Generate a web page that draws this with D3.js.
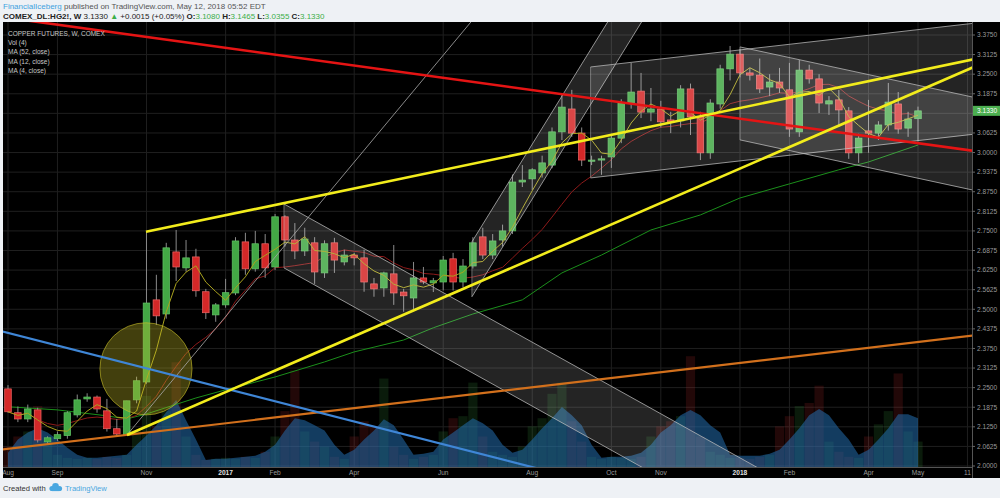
<!DOCTYPE html>
<html><head><meta charset="utf-8">
<script src="https://cdn.jsdelivr.net/npm/d3@7"></script>
<style>
html,body{margin:0;padding:0;background:#eef1f5;}
svg{display:block;font-family:"Liberation Sans",Arial,sans-serif;}
</style></head><body>
<svg id="c" width="1000" height="498"></svg>
<script>
// ---------- DATA (weekly, week 0 = first week of Aug 2016) ----------
const opens=[2.246,2.170,2.150,2.179,2.077,2.087,2.097,2.163,2.214,2.220,
2.176,2.119,2.099,2.211,2.268,2.530,2.485,2.683,2.632,2.667,
2.556,2.482,2.514,2.552,2.715,2.629,2.709,2.635,2.795,2.721,
2.686,2.712,2.616,2.712,2.651,2.673,2.664,2.581,2.568,2.613,
2.555,2.536,2.600,2.584,2.587,2.661,2.587,2.638,2.731,2.673,
2.721,2.750,2.906,2.916,2.935,2.960,3.066,3.139,3.062,2.973,
2.976,2.986,3.046,3.158,3.196,3.129,3.139,3.104,3.101,3.203,
3.114,2.999,3.155,3.267,3.314,3.254,3.247,3.209,3.225,3.200,
3.066,3.263,3.235,3.155,3.168,3.133,2.999,3.069,3.062,3.088,
3.155,3.078,3.108];
const highs=[2.258,2.190,2.196,2.186,2.095,2.110,2.175,2.228,2.232,2.225,
2.214,2.150,2.208,2.285,2.747,2.610,2.712,2.753,2.721,2.693,
2.565,2.520,2.597,2.730,2.744,2.750,2.740,2.804,2.800,2.775,
2.760,2.730,2.720,2.728,2.690,2.680,2.690,2.600,2.620,2.705,
2.565,2.651,2.635,2.600,2.670,2.680,2.660,2.730,2.760,2.740,
2.770,2.930,2.960,2.950,2.990,3.080,3.190,3.200,3.080,2.990,
2.990,3.060,3.170,3.286,3.254,3.206,3.165,3.130,3.215,3.220,
3.130,3.170,3.280,3.340,3.330,3.270,3.300,3.250,3.270,3.286,
3.295,3.280,3.250,3.180,3.200,3.145,3.060,3.168,3.100,3.222,
3.193,3.130,3.1465];
const lows=[2.170,2.140,2.140,2.075,2.070,2.080,2.087,2.155,2.205,2.170,
2.110,2.095,2.099,2.200,2.262,2.450,2.470,2.590,2.620,2.540,
2.469,2.460,2.505,2.545,2.610,2.620,2.600,2.625,2.700,2.660,
2.670,2.581,2.600,2.616,2.640,2.640,2.556,2.540,2.540,2.514,
2.492,2.501,2.580,2.555,2.560,2.560,2.570,2.630,2.660,2.660,
2.700,2.740,2.890,2.880,2.920,2.950,3.040,3.050,2.957,2.960,
2.929,2.951,3.030,3.140,3.110,3.100,3.080,3.062,3.080,3.056,
2.976,2.980,3.140,3.230,3.240,3.230,3.190,3.180,3.190,3.050,
3.050,3.220,3.126,3.120,3.082,2.980,2.967,2.999,3.040,3.070,
3.060,3.050,3.0355];
const closes=[2.173,2.150,2.182,2.083,2.090,2.100,2.170,2.211,2.220,2.182,
2.119,2.102,2.208,2.272,2.520,2.479,2.696,2.635,2.664,2.559,
2.489,2.514,2.553,2.718,2.629,2.709,2.632,2.795,2.721,2.686,
2.724,2.619,2.709,2.657,2.673,2.664,2.587,2.565,2.616,2.552,
2.543,2.600,2.587,2.591,2.657,2.587,2.638,2.712,2.673,2.718,
2.750,2.906,2.912,2.945,2.967,3.066,3.145,3.062,2.976,2.976,
2.980,3.046,3.158,3.193,3.129,3.139,3.098,3.098,3.203,3.114,
2.999,3.158,3.267,3.314,3.254,3.247,3.203,3.225,3.206,3.075,
3.263,3.235,3.158,3.165,3.136,2.999,3.046,3.062,3.088,3.161,
3.075,3.107,3.133];
const volumes=[20,30,35,60,25,12,9,8,9,8,
10,9,12,35,70,40,55,103,30,12,
7,8,9,8,10,9,15,30,55,95,
35,25,20,10,8,30,45,40,87,20,
12,8,10,12,35,48,50,83,30,15,
12,10,20,40,48,72,83,45,25,10,
8,10,9,8,10,30,40,45,50,109,
30,15,12,9,9,8,10,12,40,50,
60,63,80,25,15,10,9,30,42,55,
92,35,25];
const volMA4=[14,27,34,38,34,27,19,12,9,9,
10,11,12,22,31,41,54,66,46,27,
7,8,8,9,10,11,15,22,36,48,
46,41,36,22,12,17,27,36,47,41,
27,12,13,15,27,34,41,48,43,36,
22,14,17,27,38,48,59,51,41,22,
9,10,10,11,14,22,34,41,51,56,
51,41,34,12,11,11,11,13,17,27,
38,51,57,51,38,27,12,17,27,38,
52,52,48];
const ma52Weeks=[0,5,10,12,14,19,22,27,32,35,40,43,47,52,56,60,65,70,74,79,84,87,92];
const ma52Values=[2.189,2.179,2.160,2.150,2.166,2.217,2.243,2.284,2.332,2.364,2.402,2.441,2.485,2.530,2.616,2.673,2.753,2.801,2.855,2.900,2.945,2.970,3.024];
const priceTicks=[2.0,2.0625,2.125,2.1875,2.25,2.3125,2.375,2.4375,2.5,2.5625,2.625,2.6875,2.75,2.8125,2.875,2.9375,3.0,3.0625,3.125,3.1875,3.25,3.3125,3.375];
const timeTickWeeks=[0,5,14,22,27,35,44,53,61,66,74,79,87,92,97];
const timeTickLabels=["Aug","Sep","Nov","2017","Feb","Apr","Jun","Aug","Oct","Nov","2018","Feb","Apr","May","11"];
// drawing anchors in (week, price)
const trendAnchors={
  red:[[45.7,3.231],[96.3,3.011]],
  yellowTop:[[13.95,2.747],[74.0,3.142]],
  yellowLow:[[12.03,2.099],[96.26,3.254]],
  blue:[[2.73,2.4024],[52.48,2.0007]],
  orange:[[-0.81,2.0517],[97.47,2.4158]],
  grey:[[12.03,2.099],[46.8,3.4165]]
};
const channelAnchors={
  A:{start:[27.9,2.836],slope:-0.01757,offset:-0.204},
  B:{start:[46.9,2.715],slope:0.0511,offset:-0.175},
  C:{start:[58.9,3.273],slope:0.0036,offset:-0.354},
  D:{start:[74.0,3.337],slope:-0.0068,offset:-0.2966}
};
const circleAnchor={center:[13.95,2.310],edge:[13.95,2.457]};

// ---------- CHART ----------
const svg=d3.select("#c");
const L=3,R=972,T=22,B=467;
const x=d3.scaleLinear().domain([0,92]).range([8,918]);
const y=d3.scaleLinear().domain([2.0,3.375]).range([466,35]);
const yv=d3.scaleLinear().domain([0,120]).range([467,345]);

svg.append("rect").attr("x",0).attr("y",0).attr("width",1000).attr("height",498).attr("fill","#eef1f5");
svg.append("rect").attr("x",L).attr("y",T).attr("width",1000-L).attr("height",478-T).attr("fill","#000");

// header
const h1=svg.append("text").attr("x",3).attr("y",9).attr("font-size",8);
h1.append("tspan").attr("fill","#3ea1e0").text("FinancialIceberg");
h1.append("tspan").attr("fill","#555").text(" published on TradingView.com, May 12, 2018 05:52 EDT");
const h2=svg.append("text").attr("x",3).attr("y",18.5).attr("font-size",8).attr("fill","#222");
h2.append("tspan").attr("font-weight","bold").text("COMEX_DL:HG2!, W");
h2.append("tspan").text("  3.1330 ");
h2.append("tspan").attr("fill","#3cae48").text("▲");
h2.append("tspan").text(" +0.0015 (+0.05%) ");
[["O:","3.1080"],["H:","3.1465"],["L:","3.0355"],["C:","3.1330"]].forEach(([k,v],i)=>{
  h2.append("tspan").attr("font-weight","bold").text((i?" ":"")+k);
  h2.append("tspan").attr("fill","#3cae48").text(v);
});

svg.append("defs").append("clipPath").attr("id","plot").append("rect")
  .attr("x",L).attr("y",T).attr("width",R-L).attr("height",B-T);
svg.append("defs").append("clipPath").attr("id","taxis").append("rect")
  .attr("x",L).attr("y",B).attr("width",R-L).attr("height",11);

const g=svg.append("g").attr("clip-path","url(#plot)");
// grid
g.selectAll(".hg").data(priceTicks).join("line").attr("x1",L).attr("x2",R)
  .attr("y1",d=>y(d)).attr("y2",d=>y(d)).attr("stroke","#1f1f1f");
g.selectAll(".vg").data(timeTickWeeks).join("line").attr("y1",T).attr("y2",B)
  .attr("x1",d=>x(d)).attr("x2",d=>x(d)).attr("stroke","#1f1f1f");

// volume bars
const idx=d3.range(closes.length);
g.selectAll(".vb").data(idx).join("rect")
  .attr("x",i=>x(i)-4.6).attr("width",9.2)
  .attr("y",i=>yv(volumes[i])).attr("height",i=>yv(0)-yv(volumes[i]))
  .attr("fill",i=>closes[i]>=opens[i]?"rgba(60,170,70,0.16)":"rgba(210,50,50,0.16)");
// volume MA area
g.append("path").datum(idx).attr("fill","rgba(35,110,175,0.55)")
  .attr("d",d3.area().x(i=>x(i)).y0(yv(0)).y1(i=>yv(volMA4[i])));

// moving averages
function sma(a,n){return a.map((_,i)=>d3.mean(a.slice(Math.max(0,i-n+1),i+1)));}
const ma4=sma(closes,4), ma12=sma(closes,12);
const ln=d3.line().x(d=>x(d[0])).y(d=>y(d[1]));
g.append("path").attr("d",ln(ma52Weeks.map((w,i)=>[w,ma52Values[i]]))).attr("fill","none").attr("stroke","#1b8f1b").attr("stroke-width",1);
g.append("path").attr("d",ln(idx.map(i=>[i,ma12[i]]))).attr("fill","none").attr("stroke","#8e1a1a").attr("stroke-width",1);

// candles
const cg=g.append("g");
cg.selectAll(".w").data(idx).join("line").attr("x1",i=>x(i)).attr("x2",i=>x(i))
  .attr("y1",i=>y(highs[i])).attr("y2",i=>y(lows[i])).attr("stroke","#8a8a8a").attr("stroke-width",1);
cg.selectAll(".b").data(idx).join("rect")
  .attr("x",i=>x(i)-3.3).attr("width",6.6)
  .attr("y",i=>y(Math.max(opens[i],closes[i])))
  .attr("height",i=>Math.max(1.2,Math.abs(y(opens[i])-y(closes[i]))))
  .attr("fill",i=>closes[i]>=opens[i]?"#43a845":"#d42828")
  .attr("stroke",i=>closes[i]>=opens[i]?"#62c466":"#f06464").attr("stroke-width",0.7);
g.append("path").attr("d",ln(idx.map(i=>[i,ma4[i]]))).attr("fill","none").attr("stroke","#a9a21e").attr("stroke-width",1);

// channels
function chanPts(c,endW){
  const [w0,p0]=c.start;
  return [[w0,p0],[endW,p0+c.slope*(endW-w0)],[endW,p0+c.slope*(endW-w0)+c.offset],[w0,p0+c.offset]];
}
const poly=pts=>"M"+pts.map(p=>x(p[0])+","+y(p[1])).join("L")+"Z";
Object.entries(channelAnchors).forEach(([k,c])=>{
  const pts=chanPts(c,130);
  g.append("path").attr("d",poly(pts)).attr("fill","rgba(255,255,255,0.14)").attr("stroke","none");
  g.append("path").attr("d",ln([pts[0],pts[1]])).attr("stroke","rgba(190,190,190,0.75)").attr("fill","none");
  g.append("path").attr("d",ln([pts[3],pts[2]])).attr("stroke","rgba(190,190,190,0.75)").attr("fill","none");
  g.append("path").attr("d",ln([pts[0],pts[3]])).attr("stroke","rgba(190,190,190,0.5)").attr("fill","none");
});

// circle
g.append("circle").attr("cx",x(circleAnchor.center[0])).attr("cy",y(circleAnchor.center[1]))
  .attr("r",y(circleAnchor.center[1])-y(circleAnchor.edge[1]))
  .attr("fill","rgba(200,190,40,0.33)").attr("stroke","rgba(200,190,40,0.6)").attr("stroke-width",1);

// trend lines
function extLine(a,left,right){
  const [p1,p2]=a; const s=(p2[1]-p1[1])/(p2[0]-p1[0]);
  const w0=left?-50:p1[0], w1=right?200:p2[0];
  return [[w0,p1[1]+s*(w0-p1[0])],[w1,p1[1]+s*(w1-p1[0])]];
}
const tl=[["grey",false,true,"rgba(170,170,170,0.8)",1],
  ["orange",true,true,"#d2701c",2.2],["blue",true,true,"#3f86d6",2.2],
  ["red",true,true,"#e51414",2.6],["yellowLow",false,true,"#f2ec1c",2.6],["yellowTop",false,true,"#f2ec1c",2.6]];
tl.forEach(([k,l,r,col,w])=>{
  g.append("path").attr("d",ln(extLine(trendAnchors[k],l,r))).attr("stroke",col).attr("stroke-width",w).attr("fill","none");
});

// legend
const lg=svg.append("g").attr("font-size",6.5).attr("fill","#c8c8c8");
["COPPER FUTURES, W, COMEX","Vol (4)","MA (52, close)","MA (12, close)","MA (4, close)"].forEach((t,i)=>{
  lg.append("text").attr("x",8).attr("y",35.5+i*9.4).text(t);
});

// axes frame
svg.append("line").attr("x1",R+0.5).attr("x2",R+0.5).attr("y1",T).attr("y2",478).attr("stroke","#555");
svg.append("line").attr("x1",L).attr("x2",R).attr("y1",B+0.5).attr("y2",B+0.5).attr("stroke","#555");

// price axis
const last=closes[closes.length-1];
const pa=svg.append("g").attr("font-size",6.6).attr("fill","#9a9a9a");
priceTicks.forEach(p=>{
  pa.append("line").attr("x1",R).attr("x2",R+3).attr("y1",y(p)).attr("y2",y(p)).attr("stroke","#666");
  if(Math.abs(y(p)-y(last))>8) pa.append("text").attr("x",R+5).attr("y",y(p)+2.3).text(p.toFixed(4));
});
svg.append("rect").attr("x",R+1).attr("y",y(last)-5).attr("width",27).attr("height",10).attr("fill","#4caf50");
svg.append("text").attr("x",R+5).attr("y",y(last)+2.4).attr("font-size",6.6).attr("fill","#fff").text(last.toFixed(4));

// time axis
const ta=svg.append("g").attr("clip-path","url(#taxis)").attr("font-size",6.6);
timeTickWeeks.forEach((w,i)=>{
  const lab=timeTickLabels[i]; const yr=/^\d{4}$/.test(lab);
  ta.append("text").attr("x",x(w)).attr("y",475).attr("text-anchor","middle")
    .attr("fill",yr?"#e0e0e0":"#9a9a9a").attr("font-weight",yr?"bold":"normal").text(lab);
});

// footer
svg.append("text").attr("x",3).attr("y",490.5).attr("font-size",7.6).attr("fill","#333").text("Created with");
const logo=svg.append("g").attr("fill","#49a7e0");
logo.append("circle").attr("cx",52).attr("cy",488.5).attr("r",2.6);
logo.append("circle").attr("cx",55.5).attr("cy",486.5).attr("r",3.4);
logo.append("circle").attr("cx",59.5).attr("cy",488.5).attr("r",2.6);
logo.append("rect").attr("x",52).attr("y",488).attr("width",7.5).attr("height",3.1);
svg.append("text").attr("x",65).attr("y",490.5).attr("font-size",7.6).attr("fill","#49a7e0").text("TradingView");
</script>
</body></html>
